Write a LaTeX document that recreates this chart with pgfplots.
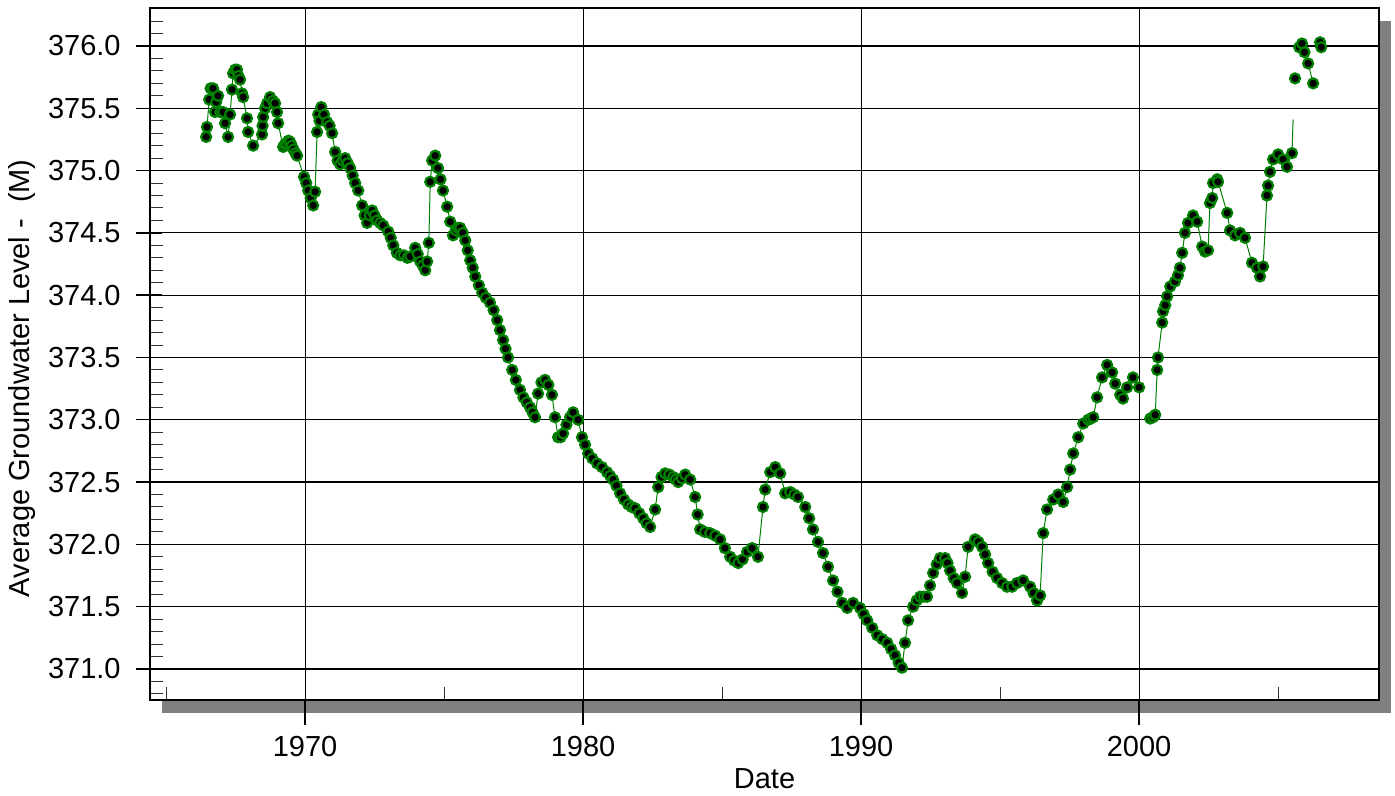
\documentclass[border=0pt]{standalone}
\usepackage{fontspec}
\setmainfont{Liberation Sans}
\usepackage{pgfplots}
\pgfplotsset{compat=1.18}
\definecolor{dgreen}{RGB}{0,128,0}
\definecolor{shadow}{RGB}{128,128,128}
\pgfdeclarelayer{background}
\pgfsetlayers{background,main}
\pgfplotsset{gw/.style={dgreen, line width=0.5pt, mark=*, mark size=2.5pt,
     mark options={fill=black, draw=dgreen, line width=1.1pt, solid}}}
\begin{document}
\begin{tikzpicture}
\begin{axis}[
  name=ax,
  scale only axis,
  width=614.5pt, height=346pt,
  xmin=1964.42, xmax=2008.63,
  ymin=370.751, ymax=376.305,
  axis background/.style={fill=white},
  axis line style={black, line width=0.75pt},
  tick pos=left,
  tick align=inside,
  xtick={1970,1980,1990,2000},
  minor xtick={1965,1975,1985,1995,2005},
  ytick={371,371.5,372,372.5,373,373.5,374,374.5,375,375.5,376},
  minor ytick={370.8,370.9,371.1,371.2,371.3,371.4,371.6,371.7,371.8,371.9,372.1,372.2,372.3,372.4,372.6,372.7,372.8,372.9,373.1,373.2,373.3,373.4,373.6,373.7,373.8,373.9,374.1,374.2,374.3,374.4,374.6,374.7,374.8,374.9,375.1,375.2,375.3,375.4,375.6,375.7,375.8,375.9,376.1,376.2},
  major tick length=13pt,
  minor tick length=6.5pt,
  major x tick style={black, line width=0.7pt, yshift=-12.5pt},
  major y tick style={black, line width=0.7pt, xshift=-7pt},
  minor tick style={black!80, line width=0.5pt},
  grid=major,
  major grid style={black, line width=0.6pt},
  /pgf/number format/assume math mode=true,
  ticklabel style={font=\fontsize{14.5}{17}\selectfont},
  xticklabel style={anchor=center, yshift=-23.5pt, /pgf/number format/1000 sep={}},
  yticklabel style={anchor=east, inner sep=0pt, xshift=-14.5pt, /pgf/number format/.cd, fixed, fixed zerofill, precision=1},
  xlabel={Date},
  ylabel={Average Groundwater Level -\ \ (M)},
  label style={font=\fontsize{14.5}{17}\selectfont},
  xlabel style={at={(axis description cs:0.5,-0.1142)}, anchor=center},
  ylabel style={at={(axis description cs:-0.1155,0.465)}, anchor=north, rotate=0, inner sep=0pt},
]
\addplot[gw] coordinates {
(1966.44,375.27) (1966.47,375.35) (1966.55,375.57) (1966.60,375.66) (1966.69,375.66)
(1966.76,375.47) (1966.80,375.55) (1966.87,375.60) (1966.95,375.47) (1967.05,375.47)
(1967.12,375.38) (1967.23,375.27) (1967.30,375.45) (1967.37,375.65) (1967.41,375.78)
(1967.48,375.81) (1967.55,375.81) (1967.60,375.76) (1967.66,375.73) (1967.73,375.62)
(1967.77,375.59) (1967.91,375.42) (1967.95,375.31) (1968.13,375.20) (1968.45,375.29)
(1968.47,375.36) (1968.49,375.43) (1968.56,375.50) (1968.63,375.54) (1968.74,375.59)
(1968.84,375.56) (1968.92,375.54) (1968.99,375.47) (1969.03,375.38) (1969.21,375.19)
(1969.27,375.21) (1969.33,375.22) (1969.40,375.24) (1969.46,375.23) (1969.52,375.20)
(1969.58,375.17) (1969.65,375.14) (1969.71,375.12) (1969.96,374.95)
(1970.04,374.90) (1970.11,374.84) (1970.20,374.78) (1970.29,374.72) (1970.36,374.83)
(1970.43,375.31) (1970.47,375.45) (1970.52,375.40) (1970.58,375.51) (1970.68,375.45)
(1970.79,375.39) (1970.88,375.36)
(1970.97,375.30) (1971.08,375.15) (1971.17,375.08) (1971.26,375.05) (1971.35,375.08)
(1971.44,375.10) (1971.53,375.06) (1971.62,375.02) (1971.71,374.96)
(1971.80,374.90) (1971.91,374.84) (1972.05,374.72) (1972.14,374.64) (1972.23,374.58)
(1972.32,374.64) (1972.41,374.68) (1972.50,374.64)
(1972.59,374.60) (1972.70,374.58) (1972.81,374.56) (1972.99,374.51) (1973.08,374.46)
(1973.17,374.40) (1973.30,374.34) (1973.42,374.32) (1973.55,374.32) (1973.68,374.30)
(1973.78,374.31) (1973.96,374.38) (1974.05,374.33) (1974.14,374.27) (1974.23,374.24)
(1974.32,374.20) (1974.39,374.27)
(1974.45,374.42) (1974.50,374.91) (1974.57,375.08) (1974.68,375.12) (1974.78,375.02)
(1974.87,374.93) (1974.96,374.84) (1975.11,374.71) (1975.22,374.59) (1975.32,374.48)
(1975.42,374.52) (1975.50,374.54) (1975.58,374.54) (1975.67,374.50)
(1975.76,374.44) (1975.85,374.36) (1975.94,374.28) (1976.03,374.22) (1976.12,374.15)
(1976.25,374.08) (1976.37,374.02) (1976.50,373.98) (1976.65,373.94) (1976.78,373.88)
(1976.91,373.80) (1977.01,373.72) (1977.12,373.64) (1977.21,373.57) (1977.30,373.50)
(1977.45,373.40) (1977.58,373.32) (1977.73,373.24) (1977.85,373.18) (1977.97,373.14)
(1978.09,373.10) (1978.18,373.06) (1978.27,373.02) (1978.38,373.21) (1978.50,373.30)
(1978.63,373.32) (1978.75,373.28)
(1978.88,373.20) (1978.99,373.02) (1979.10,372.86) (1979.19,372.86) (1979.28,372.89)
(1979.40,372.96) (1979.53,373.02)
(1979.64,373.06) (1979.82,373.00) (1979.96,372.86) (1980.07,372.80) (1980.18,372.73)
(1980.33,372.69) (1980.50,372.65) (1980.68,372.62)
(1980.86,372.58) (1980.97,372.55) (1981.08,372.52) (1981.20,372.47) (1981.33,372.41)
(1981.47,372.36) (1981.62,372.32) (1981.75,372.30) (1981.87,372.29) (1982.02,372.25)
(1982.16,372.21) (1982.28,372.17) (1982.41,372.14) (1982.59,372.28) (1982.70,372.46)
(1982.82,372.54) (1982.95,372.57) (1983.10,372.56)
(1983.24,372.54) (1983.33,372.52) (1983.42,372.50) (1983.55,372.53) (1983.67,372.56)
(1983.85,372.52) (1984.03,372.38) (1984.12,372.24)
(1984.21,372.12) (1984.38,372.10) (1984.57,372.09) (1984.75,372.07) (1984.93,372.04)
(1985.10,371.97) (1985.29,371.90) (1985.43,371.87) (1985.58,371.85) (1985.74,371.88)
(1985.90,371.94) (1986.08,371.97) (1986.29,371.90) (1986.47,372.30) (1986.55,372.44)
(1986.73,372.58) (1986.91,372.62) (1987.09,372.57) (1987.27,372.41) (1987.45,372.42)
(1987.60,372.40)
(1987.73,372.38) (1987.99,372.30) (1988.13,372.21) (1988.27,372.12) (1988.45,372.02)
(1988.63,371.93) (1988.81,371.82) (1988.99,371.71) (1989.15,371.62)
(1989.32,371.53) (1989.50,371.49) (1989.71,371.53) (1989.96,371.49) (1990.09,371.44)
(1990.22,371.39) (1990.40,371.33)
(1990.58,371.27) (1990.76,371.24) (1990.94,371.21) (1991.08,371.16) (1991.22,371.11)
(1991.35,371.05) (1991.47,371.01) (1991.58,371.21)
(1991.69,371.39) (1991.87,371.50) (1992.00,371.55) (1992.12,371.58) (1992.25,371.58)
(1992.37,371.58) (1992.48,371.67) (1992.59,371.77) (1992.72,371.84)
(1992.84,371.89) (1993.02,371.89) (1993.11,371.85) (1993.20,371.79) (1993.33,371.73)
(1993.45,371.69) (1993.63,371.61)
(1993.74,371.74) (1993.85,371.98) (1994.10,372.04) (1994.22,372.02) (1994.35,371.98)
(1994.46,371.92) (1994.57,371.85) (1994.73,371.78)
(1994.89,371.73) (1995.07,371.69) (1995.25,371.66) (1995.43,371.66) (1995.61,371.69)
(1995.83,371.71) (1996.08,371.66) (1996.20,371.61)
(1996.33,371.55) (1996.44,371.59) (1996.55,372.09) (1996.69,372.28) (1996.91,372.36)
(1997.09,372.40) (1997.27,372.34) (1997.41,372.46) (1997.52,372.60) (1997.63,372.73)
(1997.81,372.86) (1997.99,372.97) (1998.17,373.00) (1998.26,373.01) (1998.35,373.02)
(1998.49,373.18)
(1998.67,373.34) (1998.85,373.44) (1999.03,373.38) (1999.14,373.29) (1999.32,373.20)
(1999.42,373.17) (1999.57,373.26) (1999.78,373.34) (2000.00,373.26)
};
\addplot[gw] coordinates {
(2000.40,373.01) (2000.50,373.02) (2000.58,373.04) (2000.65,373.40) (2000.68,373.50)
(2000.83,373.78) (2000.86,373.87) (2000.94,373.92) (2001.01,373.99) (2001.12,374.07)
(2001.29,374.11) (2001.40,374.16) (2001.47,374.22) (2001.55,374.34) (2001.65,374.50)
(2001.76,374.58) (2001.94,374.64) (2002.09,374.59) (2002.27,374.39) (2002.37,374.35)
(2002.48,374.36) (2002.55,374.74) (2002.63,374.78) (2002.66,374.90) (2002.81,374.93)
(2002.84,374.91) (2003.17,374.66) (2003.27,374.52) (2003.45,374.48) (2003.63,374.50)
(2003.81,374.46) (2004.06,374.26) (2004.24,374.22) (2004.35,374.15) (2004.46,374.23)
(2004.60,374.80) (2004.64,374.88) (2004.71,374.99) (2004.82,375.09) (2005.00,375.13)
(2005.18,375.09) (2005.32,375.03) (2005.50,375.14)
};
\addplot[gw, no marks] coordinates {(2005.50,375.14) (2005.54,375.41)};
\addplot[gw] coordinates {(2005.61,375.74)};
\addplot[gw] coordinates {
(2005.76,375.99) (2005.86,376.02) (2005.95,375.95) (2006.08,375.86) (2006.26,375.70)
};
\addplot[gw] coordinates {(2006.51,376.03) (2006.55,375.99)};
\end{axis}
\begin{pgfonlayer}{background}
\fill[shadow] ([shift={(6pt,-6.5pt)}]ax.south west) rectangle ([shift={(6pt,-6.5pt)}]ax.north east);
\end{pgfonlayer}
\path ([shift={(-75pt,4pt)}]ax.north west) rectangle ([shift={(8pt,-48pt)}]ax.south east);
\end{tikzpicture}
\end{document}
